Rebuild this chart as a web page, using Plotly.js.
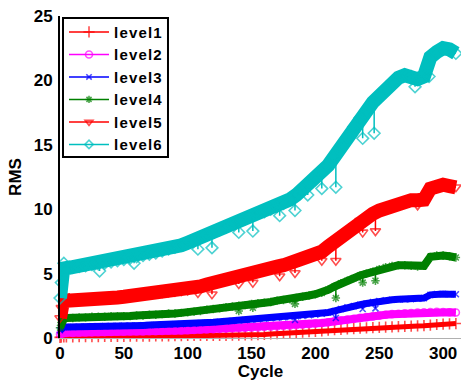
<!DOCTYPE html>
<html>
<head>
<meta charset="utf-8">
<script src="https://cdn.plot.ly/plotly-3.0.1.min.js"></script>
<style>html,body{margin:0;padding:0;background:#fff;}#chart{width:461px;height:381px;}
.legendtext{letter-spacing:1.2px;}</style>
</head>
<body>
<div id="chart"></div>
<script>
// Cycle positions of the sampled values
const cycles = [0,1,3,5,10,15,20,25,30,35,40,45,50,55,60,65,70,75,80,85,90,95,100,105,110,115,120,125,130,135,140,145,150,155,160,165,170,175,180,185,190,195,200,205,210,215,220,225,230,235,240,245,250,255,260,265,270,275,280,285,290,295,300,305,310];

const level1 = [0.05,0.07,0.08, 0.08,0.09,0.1,0.1,0.11,0.11,0.12,0.12,0.13,0.13,0.14,0.14,0.15,0.15,0.16,0.16,0.17,0.18,0.19,0.2,0.2,0.2,0.2,0.2,0.21,0.21,0.22,0.23,0.24,0.25,0.26,0.28,0.31,0.34,0.37,0.4,0.43,0.46,0.49,0.52,0.55,0.6,0.64,0.67,0.7,0.73,0.76,0.78,0.8,0.82,0.84,0.86,0.88,0.9,0.92,0.94,0.96,1.0,1.05,1.08,1.1,1.12];
const level2 = [0.3,0.35,0.4, 0.4,0.4,0.42,0.43,0.44,0.45,0.46,0.47,0.48,0.49,0.5,0.5,0.51,0.52,0.53,0.55,0.56,0.57,0.59,0.6,0.62,0.64,0.66,0.68,0.7,0.72,0.74,0.76,0.78,0.8,0.82,0.85,0.88,0.9,0.93,0.96,1.0,1.04,1.08,1.12,1.16,1.22,1.3,1.38,1.44,1.5,1.56,1.62,1.68,1.74,1.8,1.85,1.88,1.91,1.94,1.97,2.0,2.02,2.03,2.02,2.0,1.98];
const level3 = [0.6,0.75,0.85, 0.85,0.85,0.87,0.88,0.9,0.9,0.92,0.93,0.94,0.95,0.96,0.97,0.98,1.0,1.01,1.03,1.05,1.06,1.08,1.1,1.12,1.15,1.18,1.22,1.26,1.3,1.33,1.37,1.4,1.43,1.46,1.5,1.53,1.57,1.6,1.63,1.68,1.72,1.77,1.82,1.88,1.98,2.1,2.25,2.38,2.48,2.58,2.68,2.78,2.87,2.93,2.97,3.0,3.0,3.02,3.05,3.1,3.35,3.42,3.42,3.4,3.4];
const level4 = [0.8,1.2,1.5, 1.55,1.55,1.6,1.6,1.65,1.65,1.65,1.7,1.7,1.7,1.7,1.75,1.75,1.8,1.8,1.85,1.9,1.9,1.95,2.0,2.05,2.1,2.2,2.25,2.3,2.4,2.45,2.5,2.55,2.65,2.7,2.75,2.8,2.9,2.95,3.0,3.1,3.2,3.3,3.4,3.5,3.75,4.0,4.25,4.45,4.65,4.85,5.0,5.15,5.35,5.5,5.6,5.65,5.65,5.6,5.55,5.6,6.3,6.4,6.4,6.35,6.25];
const level5 = [1.55,2.35,3.2, 2.9,2.9,2.95,2.95,3.0,3.0,3.05,3.1,3.15,3.2,3.25,3.3,3.35,3.4,3.45,3.5,3.55,3.6,3.65,3.7,3.85,4.0,4.15,4.3,4.45,4.6,4.75,4.85,4.95,5.1,5.2,5.3,5.4,5.55,5.65,5.8,5.95,6.1,6.3,6.5,6.7,7.1,7.5,7.9,8.3,8.7,9.1,9.35,9.65,9.9,10.1,10.3,10.5,10.65,10.7,10.7,10.75,11.6,11.8,11.9,11.8,11.7];
const level6 = [3.1,4.3,5.8, 5.4,5.5,5.55,5.6,5.7,5.75,5.8,5.9,6.0,6.1,6.2,6.3,6.4,6.5,6.6,6.75,6.9,7.05,7.2,7.4,7.6,7.8,8.0,8.2,8.4,8.6,8.85,9.05,9.25,9.5,9.7,9.8,10.0,10.2,10.45,10.75,11.1,11.5,11.9,12.3,12.8,13.4,14.1,14.9,15.6,16.4,17.1,17.6,18.3,18.8,19.4,19.9,20.2,20.4,20.3,20.1,20.3,21.8,22.2,22.5,22.4,22.1];

// Occasional low readings (outliers) per level
const level3DipCycles = [184,216,237,247];
const level3DipValues = [1.4,1.55,2.25,2.3];
const level4DipCycles = [140,151,184,216,237,247];
const level4DipValues = [2.1,2.35,2.65,3.1,4.3,4.45];
const level5DipCycles = [108,119,140,151,172,184,205,216,237,247,280,289];
const level5DipValues = [3.5,3.4,4.2,4.3,4.8,5.05,6.0,6.0,8.2,8.3,10.3,11.2];
const level6DipCycles = [31,58,108,119,140,151,172,184,194,205,216,237,246,278,289];
const level6DipValues = [5.2,5.8,6.9,7.0,8.2,8.3,9.5,9.9,11.1,11.6,11.7,15.5,15.9,19.5,20.3];

const names = ['level1','level2','level3','level4','level5','level6'];

const series = [
  {y: level1, dc: [], dv: [], color: '#ff0000', symbol: 'cross-thin-open', band: 5, msize: 8},
  {y: level2, dc: [], dv: [], color: '#ff00ff', symbol: 'circle-open', band: 8, msize: 7},
  {y: level3, dc: level3DipCycles, dv: level3DipValues, color: '#0000ff', symbol: 'x-thin-open', band: 7, msize: 6},
  {y: level4, dc: level4DipCycles, dv: level4DipValues, color: '#008000', symbol: 'asterisk-open', band: 8, msize: 7},
  {y: level5, dc: level5DipCycles, dv: level5DipValues, color: '#ff0000', symbol: 'triangle-down-open', band: 14, msize: 9},
  {y: level6, dc: level6DipCycles, dv: level6DipValues, color: '#00bfbf', symbol: 'diamond-open', band: 14, msize: 9}
];

function bandAt(ys, c) {
  for (let i = 0; i < cycles.length - 1; i++) {
    if (c >= cycles[i] && c <= cycles[i+1]) {
      const t = (c - cycles[i]) / (cycles[i+1] - cycles[i]);
      return ys[i] + t * (ys[i+1] - ys[i]);
    }
  }
  return ys[ys.length-1];
}

const traces = [];
series.forEach((s, k) => {
  // thick band
  traces.push({
    x: cycles, y: s.y, type: 'scatter', mode: 'lines', showlegend: false, hoverinfo: 'skip',
    line: {color: s.color, width: s.band}, cliponaxis: false
  });
  // line with markers, including outlier spikes
  const pts = cycles.map((c, i) => [c, s.y[i], 0]);
  s.dc.forEach((c, j) => {
    const b = bandAt(s.y, c);
    pts.push([c - 0.001, b, 1]);
    pts.push([c, s.dv[j], 2]);
    pts.push([c + 0.001, b, 3]);
  });
  pts.sort((a, b) => a[0] - b[0]);
  traces.push({
    x: pts.map(p => p[0]), y: pts.map(p => p[1]), type: 'scatter', mode: 'lines+markers',
    name: names[k], cliponaxis: false,
    line: {color: s.color, width: 1.5},
    marker: {symbol: s.symbol, size: pts.map(p => (p[2] === 1 || p[2] === 3) ? 0 : s.msize), color: s.color, line: {color: s.color, width: 1.6}}
  });
});

const font = {family: 'Liberation Sans, Arial, sans-serif', color: '#000', weight: 'bold'};

const layout = {
  width: 461, height: 381,
  margin: {l: 60, r: 0, t: 16, b: 43, pad: 0},
  paper_bgcolor: '#fff', plot_bgcolor: '#fff',
  showlegend: true,
  font: Object.assign({}, font, {size: 17}),
  xaxis: {
    range: [0, 314], tickvals: [0,50,100,150,200,250,300], ticks: '',
    showgrid: false, zeroline: false, showline: true, linecolor: '#b0b0b0', linewidth: 1,
    tickfont: Object.assign({}, font, {size: 17}),
    title: {text: 'Cycle', font: Object.assign({}, font, {size: 17}), standoff: 4}
  },
  yaxis: {
    range: [0, 25], tickvals: [0,5,10,15,20,25], ticks: '',
    showgrid: false, zeroline: false, showline: true, linecolor: '#000', linewidth: 2,
    tickfont: Object.assign({}, font, {size: 17}),
    ticklabelstandoff: 2,
    title: {text: 'RMS', font: Object.assign({}, font, {size: 17}), standoff: 8}
  },
  shapes: [{
    type: 'rect', xref: 'paper', yref: 'paper', layer: 'above',
    x0: 0.0075, x1: 0.2693, y0: 0.562, y1: 0.9938,
    line: {color: '#000', width: 2}, fillcolor: '#fff'
  }],
  legend: {
    x: 0.01, y: 1.001, xanchor: 'left', yanchor: 'top',
    bgcolor: 'rgba(0,0,0,0)', borderwidth: 0,
    font: Object.assign({}, font, {size: 15}),
    itemwidth: 40, tracegroupgap: 0
  }
};

Plotly.newPlot('chart', traces, layout, {displayModeBar: false, staticPlot: true});
</script>
</body>
</html>
